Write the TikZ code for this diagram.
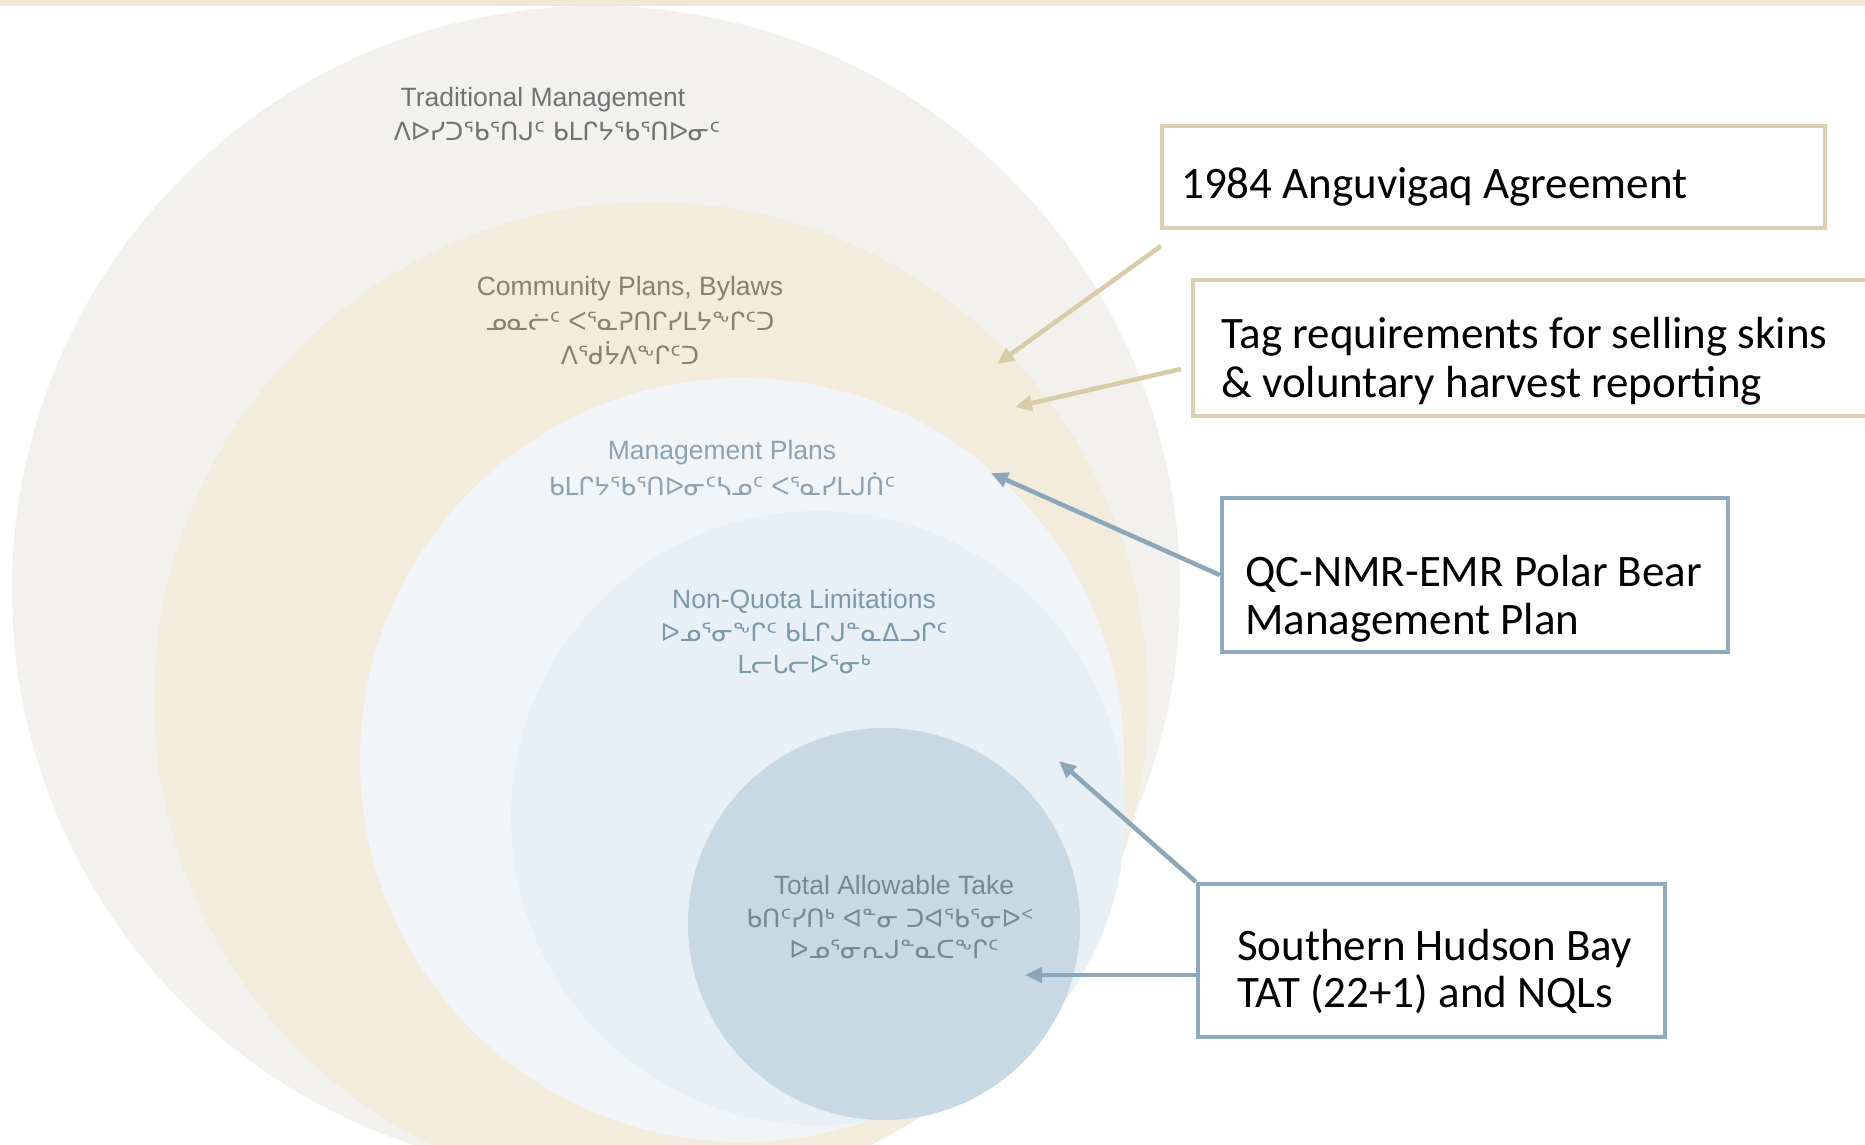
\documentclass[tikz,border=0pt]{standalone}
\usepackage{fontspec}
\setmainfont{Liberation Sans}
\newfontfamily\calib{Carlito}
\newfontfamily\syl{DejaVu Sans}
\usetikzlibrary{arrows.meta,calc}
\definecolor{cTrad}{HTML}{F2F1EE}
\definecolor{cComm}{HTML}{F3ECDC}
\definecolor{cMgmt}{HTML}{F1F5F8}
\definecolor{cNonQ}{HTML}{E8F0F5}
\definecolor{cTAT}{HTML}{C9D9E3}
\definecolor{cStrip}{HTML}{F2E7D3}
\definecolor{tTrad}{HTML}{727275}
\definecolor{tComm}{HTML}{868172}
\definecolor{tMgmt}{HTML}{8DA1B1}
\definecolor{tNonQ}{HTML}{7B99A9}
\definecolor{tTAT}{HTML}{768893}
\definecolor{lBeige}{HTML}{D8CBA8}
\definecolor{lBlue}{HTML}{8CA7B9}
\definecolor{bBeige}{HTML}{DDD0B2}
\definecolor{bBlue}{HTML}{8FAABD}
\tikzset{
  lab/.style={font=\fontsize{26.5}{30}\selectfont, inner sep=0pt},
  syll/.style={font=\syl\fontsize{25}{30}\selectfont, inner sep=0pt},
  boxB/.style={draw=bBeige, line width=4.5pt, inner sep=0pt},
  boxL/.style={draw=bBlue, line width=4.5pt, inner sep=0pt},
  btxt/.style={font=\calib\fontsize{45}{49}\selectfont, inner sep=0pt, anchor=base west},
  arB/.style={draw=lBeige, line width=4.5pt, -{Triangle[length=17pt,width=15pt]}},
  arL/.style={draw=lBlue, line width=4.5pt, -{Triangle[length=17pt,width=15pt]}}
}
\begin{document}
\begin{tikzpicture}[x=1pt,y=-1pt]
\useasboundingbox (0,0) rectangle (1865,1144);
\fill[white] (0,0) rectangle (1865,1144);
\begin{scope}
\clip (0,0) rectangle (1865,1144);
\fill[cTrad] (596,590) circle[radius=584];
\fill[cComm] (651,699) circle[radius=497];
\fill[cMgmt] (742,760) circle[radius=382];
\fill[cNonQ] (818,818) circle[radius=307];
\fill[cTAT] (884,924) circle[radius=196];
\end{scope}
\fill[cStrip] (0,0) rectangle (1865,6);

% circle labels
\node[lab, text=tTrad] (trad) at (543,100) {Traditional Management};
\node[syll, text=tTrad] (tradS) at (557,131) {ᐱᐅᓯᑐᖃᕐᑎᒍᑦ ᑲᒪᒋᔭᖃᕐᑎᐅᓂᑦ};

\node[lab, text=tComm] (comm) at (630,289) {Community Plans, Bylaws};
\node[syll, text=tComm] (commS1) at (630,321) {ᓄᓇᓖᑦ ᐸᕐᓇᕈᑎᒋᓯᒪᔭᖕᒋᑦᑐ};
\node[syll, text=tComm] (commS2) at (630,353) {ᐱᕐᑯᔮᐱᖕᒋᑦᑐ};

\node[lab, text=tMgmt] (mgmt) at (722,453) {Management Plans};
\node[syll, text=tMgmt] (mgmtS) at (722,484) {ᑲᒪᒋᔭᖃᕐᑎᐅᓂᑦᓴᓄᑦ ᐸᕐᓇᓯᒪᒍᑏᑦ};

\node[lab, text=tNonQ] (nonq) at (804,601) {Non-Quota Limitations};
\node[syll, text=tNonQ] (nonqS1) at (804,632) {ᐅᓄᕐᓂᖕᒋᑦ ᑲᒪᒋᒍᓐᓇᐃᓗᒋᑦ};
\node[syll, text=tNonQ] (nonqS2) at (804,664) {ᒪᓕᒐᓕᐅᕐᓂᒃ};

\node[lab, text=tTAT] (tat) at (894,885) {Total Allowable Take};
\node[syll, text=tTAT] (tatS1) at (890,918) {ᑲᑎᑦᓯᑎᒃ ᐊᓐᓂ ᑐᐊᖃᕐᓂᐅᑉ};
\node[syll, text=tTAT] (tatS2) at (894,949) {ᐅᓄᕐᓂᕆᒍᓐᓇᑕᖕᒋᑦ};

% boxes
\node[boxB, minimum width=663pt, minimum height=102pt] (b1) at (1493.5,177) {};
\node[btxt] (b1t) at (1181,198.5) {1984 Anguvigaq Agreement};

\begin{scope}
\clip (0,0) rectangle (1865,1144);
\node[boxB, minimum width=690pt, minimum height=136pt] (b2) at (1538,348) {};
\end{scope}
\node[btxt] (b2t1) at (1221,348.5) {Tag requirements for selling skins};
\node[btxt] (b2t2) at (1221,397.5) {\& voluntary harvest reporting};

\node[boxL, minimum width=506pt, minimum height=154pt] (b3) at (1475,575) {};
\node[btxt] (b3t1) at (1245,586.5) {QC-NMR-EMR Polar Bear};
\node[btxt] (b3t2) at (1245,634.5) {Management Plan};

\node[boxL, minimum width=467pt, minimum height=153pt] (b4) at (1431.5,960.5) {};
\node[btxt] (b4t1) at (1237,960.5) {Southern Hudson Bay};
\node[btxt] (b4t2) at (1237,1007.5) {TAT (22+1) and NQLs};

% connectors
\coordinate (a1s) at (1161,246);
\coordinate (a1e) at (997,364);
\coordinate (a2s) at (1181,369);
\coordinate (a2e) at (1015,407);
\coordinate (a3e) at (991,473);
\coordinate (a4e) at (1059,761);
\coordinate (a5s) at (1198,975);
\coordinate (a5e) at (1025,975);
\draw[arB] (a1s) -- (a1e);
\draw[arB] (a2s) -- (a2e);
\draw[arL] (b3.west) -- (a3e);
\draw[arL] (b4.north west) -- (a4e);
\draw[arL] (a5s) -- (a5e);
\end{tikzpicture}
\end{document}
